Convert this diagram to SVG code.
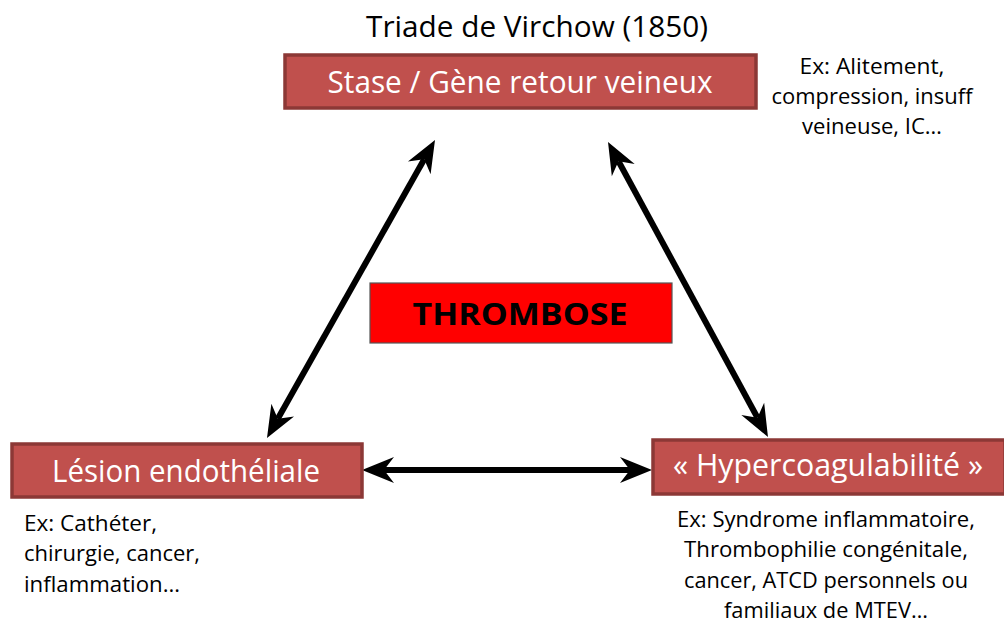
<svg xmlns="http://www.w3.org/2000/svg" width="1004" height="623" viewBox="0 0 1004 623">
<defs>
<style>
.box{fill:#C0504D;stroke:#8C3836;stroke-width:3.5}
.bt{font-family:"Open Sans","Liberation Sans",sans-serif;font-size:31px;fill:#ffffff;text-anchor:middle}
.nt{font-family:"Open Sans","Liberation Sans",sans-serif;font-size:22px;fill:#000000}
.conn{stroke:#000;stroke-width:6;fill:none;marker-start:url(#ah);marker-end:url(#ah)}
</style>
<marker id="ah" markerUnits="userSpaceOnUse" markerWidth="44" markerHeight="34" viewBox="-12 -17 44 34" refX="0" refY="0" orient="auto-start-reverse" overflow="visible">
<path d="M22,0 L-10,-13 L0,0 L-10,13 Z" fill="#000"/>
</marker>
</defs>
<rect width="1004" height="623" fill="#ffffff"/>
<text x="537" y="37" font-family="'Open Sans','Liberation Sans',sans-serif" font-size="30" text-anchor="middle" textLength="342" lengthAdjust="spacingAndGlyphs">Triade de Virchow (1850)</text>
<g id="connectors">
<line class="conn" x1="277.8" y1="418.8" x2="424.2" y2="159.2"/>
<line class="conn" x1="618.5" y1="161.3" x2="757.5" y2="417.7"/>
<line class="conn" x1="384" y1="470" x2="630" y2="470"/>
</g>
<g id="stase">
<rect class="box" x="285" y="55" width="471" height="53"/>
<text class="bt" x="520" y="93" textLength="385" lengthAdjust="spacingAndGlyphs">Stase / Gène retour veineux</text>
</g>
<g id="stase-ex">
<text class="nt" text-anchor="middle"><tspan x="872" y="74" textLength="145" lengthAdjust="spacingAndGlyphs">Ex: Alitement,</tspan><tspan x="872" y="104" textLength="201" lengthAdjust="spacingAndGlyphs">compression, insuff</tspan><tspan x="872" y="134" textLength="140" lengthAdjust="spacingAndGlyphs">veineuse, IC…</tspan></text>
</g>
<g id="thrombose">
<rect x="370" y="283" width="302" height="60" fill="#FF0000" stroke="#555" stroke-width="1.2"/>
<text x="520" y="325" font-family="'Open Sans','Liberation Sans',sans-serif" font-weight="bold" font-size="31" text-anchor="middle" textLength="215" lengthAdjust="spacingAndGlyphs">THROMBOSE</text>
</g>
<g id="lesion">
<rect class="box" x="12" y="444" width="350" height="53"/>
<text class="bt" x="186" y="482" textLength="268" lengthAdjust="spacingAndGlyphs">Lésion endothéliale</text>
</g>
<g id="lesion-ex">
<text class="nt"><tspan x="24" y="531" textLength="133" lengthAdjust="spacingAndGlyphs">Ex: Cathéter,</tspan><tspan x="24" y="561" textLength="176" lengthAdjust="spacingAndGlyphs">chirurgie, cancer,</tspan><tspan x="24" y="592" textLength="156" lengthAdjust="spacingAndGlyphs">inflammation…</tspan></text>
</g>
<g id="hyper">
<rect class="box" x="653" y="440" width="352" height="54"/>
<text class="bt" x="828" y="476" textLength="310" lengthAdjust="spacingAndGlyphs">« Hypercoagulabilité »</text>
</g>
<g id="hyper-ex">
<text class="nt" text-anchor="middle"><tspan x="826" y="527" textLength="298" lengthAdjust="spacingAndGlyphs">Ex: Syndrome inflammatoire,</tspan><tspan x="826" y="557" textLength="284" lengthAdjust="spacingAndGlyphs">Thrombophilie congénitale,</tspan><tspan x="826" y="588" textLength="284" lengthAdjust="spacingAndGlyphs">cancer, ATCD personnels ou</tspan><tspan x="826" y="618" textLength="204" lengthAdjust="spacingAndGlyphs">familiaux de MTEV…</tspan></text>
</g>
</svg>
